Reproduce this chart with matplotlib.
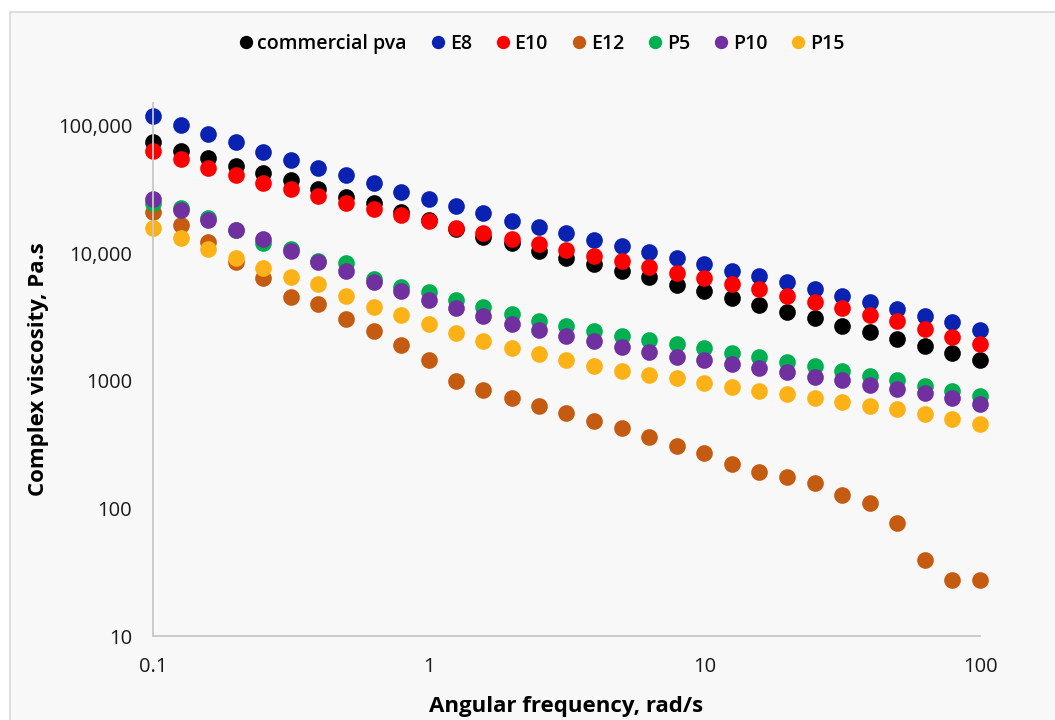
import matplotlib
matplotlib.use("Agg")
from matplotlib import pyplot as plt
from matplotlib.patches import Rectangle
from matplotlib.ticker import FixedLocator, NullLocator

plt.rcParams['font.family'] = ['Open Sans', 'DejaVu Sans']

freq = [0.1, 0.126, 0.158, 0.2, 0.251, 0.316, 0.398, 0.501, 0.631, 0.794,
        1, 1.26, 1.58, 2, 2.51, 3.16, 3.98, 5.01, 6.31, 7.94,
        10, 12.6, 15.8, 20, 25.1, 31.6, 39.8, 50.1, 63.1, 79.4, 100]

commercial_pva = [74900, 63700, 56100, 48600, 42800, 37700, 32100, 27700, 24900, 21200,
                  18300, 15600, 13500, 12100, 10500, 9220, 8280, 7290, 6540, 5660,
                  5080, 4480, 3950, 3480, 3120, 2700, 2420, 2140, 1880, 1660, 1460]
e8 = [120000, 102000, 86600, 74900, 62500, 54100, 46800, 41300, 35700, 30400,
      26800, 23600, 20800, 18000, 16100, 14500, 12800, 11500, 10300, 9220,
      8280, 7290, 6660, 5980, 5270, 4640, 4170, 3670, 3230, 2900, 2510]
e10 = [63700, 55100, 46800, 41300, 35700, 32100, 28200, 24900, 22300, 20000,
       18000, 15800, 14500, 13000, 11900, 10600, 9560, 8730, 7840, 7030,
       6420, 5760, 5270, 4640, 4170, 3740, 3290, 2950, 2560, 2210, 1950]
e12 = [21200, 16700, 12300, 8580, 6420, 4560, 4020, 3060, 2470, 1920,
       1460, 1000, 850, 736, 637, 561, 486, 428, 364, 309,
       272, 223, 193, 177, 158, 128, 110, 77, 39.5, 27.5, 27.5]
p5 = [24900, 22700, 19000, 15300, 12100, 10800, 8730, 8430, 6310, 5460,
      4990, 4320, 3810, 3350, 2950, 2700, 2470, 2250, 2100, 1950,
      1820, 1660, 1540, 1410, 1310, 1200, 1090, 1020, 914, 835, 763]
p10 = [26800, 21900, 18300, 15300, 13000, 10500, 8580, 7290, 5980, 5080,
       4320, 3740, 3230, 2800, 2510, 2250, 2060, 1850, 1690, 1540,
       1460, 1360, 1260, 1180, 1080, 1020, 930, 866, 805, 736, 660]
p15 = [15800, 13200, 10800, 9220, 7700, 6540, 5760, 4640, 3810, 3290,
       2800, 2380, 2060, 1820, 1630, 1460, 1310, 1200, 1110, 1060,
       965, 897, 835, 791, 736, 684, 637, 603, 551, 504, 460]

series_names = ['commercial pva', 'E8', 'E10', 'E12', 'P5', 'P10', 'P15']
series_values = [commercial_pva, e8, e10, e12, p5, p10, p15]
series_colors = ['#000000', '#0a22b2', '#ff0000', '#c55a11', '#00b050', '#7030a0', '#fcb216']

y_ticks = [10, 100, 1000, 10000, 100000]
y_labels = ['10', '100', '1000', '10,000', '100,000']
x_ticks = [0.1, 1, 10, 100]
x_labels = ['0.1', '1', '10', '100']

fig = plt.figure(figsize=(10.55, 7.2), dpi=100)
fig.patch.set_facecolor('white')
# chart area frame (Excel style, cropped at right/bottom)
fig.patches.append(Rectangle((10 / 1055, -0.02), 1.1, 1 - 12 / 720 + 0.02,
                             transform=fig.transFigure, facecolor='#f8f8f8',
                             edgecolor='#d9d9d9', linewidth=1.2, zorder=-10))

ax = fig.add_axes([153 / 1055, 1 - 636 / 720, (980 - 153) / 1055, (636 - 103) / 720])
ax.set_facecolor('#f8f8f8')
ax.set_zorder(1)

for name, vals, col in zip(series_names, series_values, series_colors):
    ax.plot(freq, vals, 'o', color=col, markersize=12, markeredgewidth=0,
            label=name, clip_on=False)

ax.set_xscale('log')
ax.set_yscale('log')
ax.set_xlim(0.1, 100)
ax.set_ylim(10, 151000)
ax.xaxis.set_major_locator(FixedLocator(x_ticks))
ax.xaxis.set_minor_locator(NullLocator())
ax.yaxis.set_major_locator(FixedLocator(y_ticks))
ax.yaxis.set_minor_locator(NullLocator())
ax.set_xticklabels(x_labels)
ax.set_yticklabels(y_labels)
ax.tick_params(length=0, labelsize=14.5, colors='#1a1a1a')
ax.tick_params(axis='x', pad=15)
ax.tick_params(axis='y', pad=15)

for s in ['top', 'right']:
    ax.spines[s].set_visible(False)
for s in ['left', 'bottom']:
    ax.spines[s].set_color('#c8c8c8')
    ax.spines[s].set_linewidth(1.3)

ax.set_xlabel('Angular frequency, rad/s', fontsize=16, fontweight='bold', labelpad=14)
ax.set_ylabel('Complex viscosity, Pa.s', fontsize=16, fontweight='bold', labelpad=6)

fig.legend(loc='center', bbox_to_anchor=(0.512, 1 - 44 / 720), ncol=7, frameon=False,
           markerscale=0.8, handletextpad=0.1, columnspacing=1.1,
           handlelength=1.0, prop={'size': 14, 'weight': 'semibold'})

fig.savefig('out.png', dpi=100, facecolor='white')
